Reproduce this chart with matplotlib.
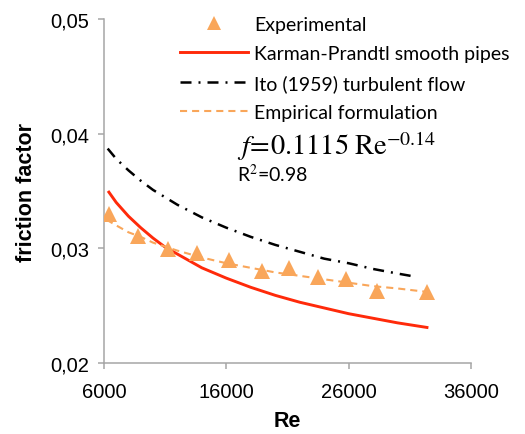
import matplotlib
matplotlib.use("Agg")
import matplotlib.pyplot as plt
from matplotlib.ticker import FixedLocator, FuncFormatter

# experimental points
re_exp = [6400, 8800, 11200, 13600, 16200, 18900, 21100, 23500, 25800, 28300, 32400]
f_exp = [0.0330, 0.0311, 0.0299, 0.0296, 0.0290, 0.0280, 0.0283, 0.0275, 0.0273, 0.0263, 0.0262]

# Karman-Prandtl smooth pipe curve
re_kp = [6400, 7000, 8000, 9000, 10000, 11000, 12000, 14000, 16000, 18000, 20000,
         22000, 24000, 26000, 28000, 30000, 32400]
f_kp = [0.0349, 0.0340, 0.0328, 0.0318, 0.0309, 0.0301, 0.0295, 0.0283, 0.0274, 0.0266, 0.0259,
        0.0253, 0.0248, 0.0243, 0.0239, 0.0235, 0.0231]

# Ito (1959) turbulent flow
re_ito = [6300, 7000, 8000, 9000, 10000, 12000, 14000, 16000, 18000, 20000, 22000,
          24000, 26000, 28000, 30000, 31600]
f_ito = [0.0387, 0.0378, 0.0368, 0.0359, 0.0351, 0.0338, 0.0327, 0.0318, 0.0310, 0.0303, 0.0297,
         0.0291, 0.0287, 0.0282, 0.0278, 0.0275]

# empirical fit
re_emp = [6200, 7000, 8000, 9000, 10000, 12000, 14000, 16000, 18000, 20000, 22000,
          24000, 26000, 28000, 30000, 32400]
f_emp = [0.0325, 0.0320, 0.0314, 0.0310, 0.0305, 0.0298, 0.0292, 0.0287, 0.0283, 0.0279, 0.0276,
         0.0273, 0.0270, 0.0267, 0.0265, 0.0262]

x_ticks = [6000, 16000, 26000, 36000]
y_ticks = [0.02, 0.03, 0.04, 0.05]

plt.rcParams['font.family'] = ['Liberation Sans', 'DejaVu Sans']
plt.rcParams['mathtext.fontset'] = 'stix'

fig = plt.figure(figsize=(5.25, 4.35), dpi=100)
ax = fig.add_axes([104/525, 1 - 364/435, 367/525, 344/435])

orange = '#F9A65A'
red = '#FF2A0A'
ax.plot(re_exp, f_exp, linestyle='none', marker='^', ms=12, color=orange,
        markeredgewidth=0, label='Experimental', zorder=4)
ax.plot(re_kp, f_kp, color=red, lw=2.1, label='Karman-Prandtl smooth pipes', zorder=3)
ax.plot(re_ito, f_ito, color='black', lw=1.8, linestyle=(0, (4.4, 2.8, 0.8, 2.8)),
        label='Ito (1959) turbulent flow', zorder=3)
ax.plot(re_emp, f_emp, color=orange, lw=1.5, linestyle=(0, (3.4, 2.4)),
        label='Empirical formulation', zorder=3)

ax.set_xlim(6000, 36000)
ax.set_ylim(0.02, 0.05)
ax.xaxis.set_major_locator(FixedLocator(x_ticks))
ax.yaxis.set_major_locator(FixedLocator(y_ticks))
ax.yaxis.set_major_formatter(FuncFormatter(lambda v, p: f"{v:.2f}".replace('.', ',')))
ax.xaxis.set_major_formatter(FuncFormatter(lambda v, p: f"{int(v)}"))

for s in ['top', 'right']:
    ax.spines[s].set_visible(False)
for s in ['left', 'bottom']:
    ax.spines[s].set_color('#A6A6A6')
    ax.spines[s].set_linewidth(1.1)
ax.tick_params(direction='out', length=4.5, width=1.1, color='#A6A6A6', labelsize=14.5)
ax.tick_params(axis='x', pad=9)
ax.tick_params(axis='y', pad=6)

ax.set_xlabel('Re', fontsize=15.5, fontweight='bold', labelpad=7)
ax.set_ylabel('friction factor', fontsize=15.5, fontweight='bold', labelpad=10)

leg = ax.legend(loc='upper left', bbox_to_anchor=(180/525, 1 - 17/435),
                bbox_transform=fig.transFigure, frameon=False,
                prop={'family': ['Lato', 'DejaVu Sans'], 'size': 14},
                handlelength=3.5, handletextpad=0.3, labelspacing=0.62,
                borderaxespad=0, borderpad=0, numpoints=1, markerscale=0.85)

fig.text(237/525, 1 - 155/435, r'$\mathit{f}\!=\!0.1115\;\mathrm{Re}^{-0.14}$',
         fontsize=20.5, va='baseline', ha='left')
fig.text(237/525, 1 - 182/435, r'R$^2$=0.98', fontsize=14,
         family=['Lato', 'DejaVu Sans'], va='baseline', ha='left')

fig.savefig('out.png', dpi=100)
